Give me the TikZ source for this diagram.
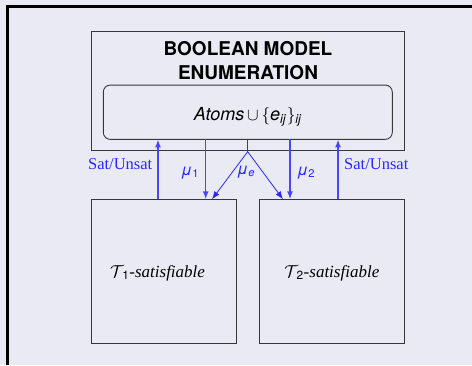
\documentclass[tikz,border=0pt]{standalone}
\usepackage{fontspec}
\setmainfont{Liberation Serif}
\setsansfont{TeX Gyre Heros}
\usetikzlibrary{arrows.meta}
\definecolor{bg}{RGB}{234,234,245}
\definecolor{lblue}{RGB}{40,40,255}
\definecolor{vblue}{RGB}{70,70,255}
\definecolor{boxc}{RGB}{55,55,55}
\tikzset{
  box/.style={draw=boxc, line width=1.1pt, inner sep=0pt, outer sep=0pt},
  rbox/.style={draw=boxc, line width=0.9pt, rounded corners=7pt, inner sep=0pt, outer sep=0pt},
  arr/.style={draw=vblue, line width=1.4pt, -{Latex[length=8pt,width=6pt]}},
  thinarr/.style={draw=lblue, line width=0.8pt, -{Latex[length=8pt,width=6pt]}},
  bluelab/.style={text=lblue, inner sep=0pt},
  frameline/.style={line width=3pt, black},
}
\begin{document}
\begin{tikzpicture}[x=1pt,y=-1pt]
\fill[bg] (0,0) rectangle (472,365);
\useasboundingbox (0,0) rectangle (472,365);
% frame
\draw[frameline] (6,6.5) -- (472,6.5);
\draw[frameline] (7.5,5) -- (7.5,365);
% boxes
\node[box, minimum width=312.6pt, minimum height=119.7pt] (bme) at (248,90.9) {};
\node[rbox, minimum width=289pt, minimum height=54.3pt] (atoms) at (247.8,112.2) {};
\node[box, minimum width=144.6pt, minimum height=144pt] (t1) at (164,271.3) {};
\node[box, minimum width=144.6pt, minimum height=144pt] (t2) at (332,271.3) {};
% texts
\node[anchor=base, inner sep=0pt, font=\fontsize{19}{24}\selectfont\sffamily\bfseries] (title1) at (248,55) {BOOLEAN MODEL};
\node[anchor=base, inner sep=0pt, font=\fontsize{19}{24}\selectfont\sffamily\bfseries] (title2) at (248,79) {ENUMERATION};
\node[anchor=base, inner sep=0pt, font=\fontsize{18}{22}\selectfont\sffamily] (atomstext) at (248,120.5)
  {\textit{Atoms}$\,\cup\,\{$\textit{e}\textsubscript{\textit{ij}}$\}$\textsubscript{\textit{ij}}};
\node[anchor=base, inner sep=0pt, font=\fontsize{17}{20}\selectfont] (l1) at (157.5,277.3)
  {$\mathcal{T}$\kern-1.5pt\textsubscript{\sffamily 1}\textit{-satisfiable}};
\node[anchor=base, inner sep=0pt, font=\fontsize{17}{20}\selectfont] (l2) at (331.8,277.3)
  {$\mathcal{T}$\kern-1.5pt\textsubscript{\sffamily 2}\textit{-satisfiable}};
% connectors
\coordinate (xa) at (158,0);
\coordinate (xb) at (205.7,0);
\coordinate (xc) at (247.7,0);
\coordinate (xd) at (290,0);
\coordinate (xe) at (338,0);
\coordinate (xf) at (212,0);
\coordinate (xg) at (283,0);
\coordinate (fork) at (247.7,151.7);
\draw[arr] (t1.north -| xa) -- (atoms.south -| xa);
\draw[arr] (atoms.south -| xb) -- (t1.north -| xb);
\draw[draw=lblue, line width=1.4pt] (atoms.south -| xc) -- (fork);
\draw[thinarr] (fork) -- (t1.north -| xf);
\draw[thinarr] (fork) -- (t2.north -| xg);
\draw[arr] (atoms.south -| xd) -- (t2.north -| xd);
\draw[arr] (t2.north -| xe) -- (atoms.south -| xe);
% labels
\node[bluelab, anchor=base east, font=\fontsize{16.5}{20}\selectfont] (s1) at (152.5,169) {Sat/Unsat};
\node[bluelab, anchor=base west, font=\fontsize{16.5}{20}\selectfont] (s2) at (344,169) {Sat/Unsat};
\node[bluelab, anchor=base west, font=\fontsize{16}{20}\selectfont\sffamily] (m1) at (181,175) {\textit{μ}\textsubscript{1}};
\node[bluelab, anchor=base west, font=\fontsize{16}{20}\selectfont\sffamily] (me) at (237,174) {\textit{μ}\textsubscript{\textit{e}}};
\node[bluelab, anchor=base west, font=\fontsize{16}{20}\selectfont\sffamily] (m2) at (297,175) {\textit{μ}\textsubscript{2}};
\end{tikzpicture}
\end{document}
